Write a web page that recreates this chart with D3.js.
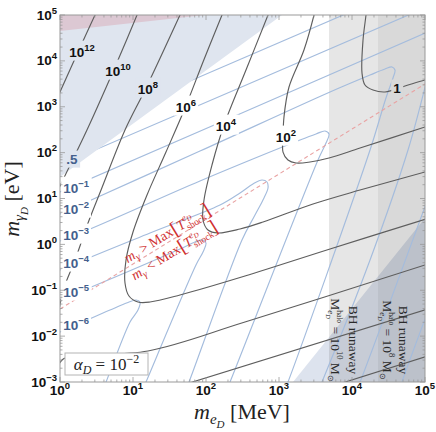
<!DOCTYPE html>
<html><head><meta charset="utf-8">
<script src="https://cdn.jsdelivr.net/npm/d3@7"></script>
<style>body{margin:0;background:#fff}svg{display:block}text{white-space:pre}</style>
</head><body><svg id="c" width="436" height="432"></svg>
<script>
// ---------------- data (x: m_eD in MeV, y: m_gammaD in eV) ----------------
const X_TICK_EXP = ["0","1","2","3","4","5"];
const Y_TICK_EXP = ["−3","−2","−1","0","1","2","3","4","5"];

// black contours (value labels 10^12 ... 1)
const black12a = [[3.53,165000],[3.02,1e5],[1.765,15600],[1,2097],[0.777,849]];
const black12b = [[3650,0.00067],[220000,0.00524]];
const black10a = [[12.87,165000],[11.35,1e5],[5.67,7360],[2.34,311],[1,18.7],[0.73,6.21]];
const black10b = [[32.1,0.000703],[220000,0.0554]];
const black8 = [[50,157000],[44,1e5],[15.07,2565],[7.77,311],[3.65,15.3],[2.42,2.92],[1.606,0.456],[1.134,0.112],[0.969,0.0371],[0.828,0.00641],[0.882,0.00202],[1.134,0.00325],[16.04,0.00474],[342,0.0203],[1e5,0.355],[220000,0.531]];
const black6 = [[188,165000],[165.6,1e5],[91,9452],[51.6,939],[28.3,103],[15.56,11.92],[10,1.86],[8.02,0.456],[7.77,0.144],[8.81,0.0749],[11.7,0.0554],[17.1,0.0554],[44,0.0787],[342,0.204],[5000,0.792],[1e5,3.5],[220000,5.08]];
const black4 = [[777,149000],[707,1e5],[353,6320],[176.6,400],[120.8,53.7],[93.9,9.27],[91,3.4],[106.4,2.06],[145.9,1.77],[292.4,2.16],[604,3.07],[2923,7.59],[12880,15.3],[1e5,37.8],[220000,53.7]];
const black2 = [[3213,157000],[3016,1e5],[2198,17260],[1371,2697],[1170,598],[1135,219],[1135,103],[1327,69],[1710,59.4],[2660,62.5],[4842,76.4],[12880,126],[1e5,362],[220000,541]];
const black0 = [[16030,157000],[15560,1e5],[14160,28510],[13710,5440],[15070,2980],[19410,2318],[28320,2099],[53210,2831],[1e5,3830],[220000,5440]];
const blackLabelText = ["12","10","8","6","4","2",""];
const blackLabelPos = [[2.0,15600],[6.23,6010],[16.04,2440],[53.2,989],[187.9,380],[1247,219],[41330,2565]];

// blue contours (.5, 10^-1 ... 10^-6)
const blue6 = [[0.73,0.01007],[1,0.0123],[4.84,0.0371],[8.54,0.0541],[11,0.0612],[12.47,0.0554],[11.7,0.0371],[9.1,0.0203],[4.27,0.001],[3.88,0.000703]];
const blue5 = [[0.73,0.0501],[1,0.0612],[44,0.792],[70.7,1.13],[91,1.245],[100,1.07],[91,0.683],[72.9,0.355],[15.07,0.001],[13.7,0.000703]];
const blue4 = [[0.73,0.215],[1,0.276],[17.1,1.77],[155.5,7.21],[292.4,13.2],[440,20.7],[585,25.3],[685,22.9],[707,16.9],[623,10.3],[469,4.36],[311,1.245],[58.5,0.001],[53.2,0.000703]];
const blue3 = [[0.73,1.085],[1,1.185],[82.7,24.1],[1941,188],[3213,255],[4266,296],[4842,255],[4402,162],[3421,69],[213.2,0.001],[194,0.000703]];
const blue2 = [[0.73,3.66],[1,4.59],[82.7,108],[5000,2099],[17660,4920],[28320,6650],[35300,7360],[38800,6320],[36460,4240],[29200,1552],[17660,114],[1327,0.001],[1208,0.000703]];
const blue1a = [[0.73,11.3],[1,13.9],[117000,44800]];
const blue1b = [[3530,0.000703],[3880,0.001],[17660,0.456],[58500,114],[106400,3830],[124700,9440]];
const blueHalf = [[0.73,44],[1,53.7],[85500,128500]];
const blueUpper = [[1,219],[9400,116000]];
const blueSteepA = [[11700,0.000703],[12880,0.001],[117000,13.2]];
const blueSteepB = [[45500,0.000703],[48400,0.001],[117000,0.0454]];
const blueLabelText = [".5","−1","−2","−3","−4","−5","−6"];
const blueLabelPos = [[1.46,72.6],[1.66,16.9],[1.66,5.9],[1.66,1.6],[1.66,0.393],[1.66,0.0916],[1.66,0.0175]];

// shaded regions
const shadeUL = [[1,1e5],[1100,1e5],[1,29.4]];
const shadePink = [[1,1e5],[96.9,1e5],[1,44800]];
const shadeLR = [[1556,0.001],[1e5,3.76],[1e5,0.001]];
const bhBandLow = [4840, 22700];
const redLine = [[1,0.039],[1e5,3130]];

// ---------------- drawing ----------------
const W=436,H=432,L=60,R=425,T=15,B=382;
const svg=d3.select("#c");
const x=d3.scaleLog().domain([1,1e5]).range([L,R]);
const y=d3.scaleLog().domain([1e-3,1e5]).range([B,T]);
svg.append("rect").attr("width",W).attr("height",H).attr("fill","#fff");
svg.append("defs").append("clipPath").attr("id","clip").append("rect")
  .attr("x",L).attr("y",T).attr("width",R-L).attr("height",B-T);
const plot=svg.append("g").attr("clip-path","url(#clip)");
const line=d3.line().x(d=>x(d[0])).y(d=>y(d[1])).curve(d3.curveCatmullRom.alpha(0.5));
const poly=d3.line().x(d=>x(d[0])).y(d=>y(d[1]));

const bandCols=["#e6e6e6","#d9d9d9"];
bhBandLow.forEach((lo,i)=>plot.append("rect").attr("x",x(lo)).attr("y",T)
  .attr("width",x(1e5)-x(lo)).attr("height",B-T).attr("fill",bandCols[i]));
plot.append("path").attr("d",poly(shadeLR)+"Z").attr("fill","#dde3ee").style("mix-blend-mode","multiply");

[blue6,blue5,blue4,blue3,blue2,blue1a,blue1b,blueHalf,blueUpper,blueSteepA,blueSteepB].forEach(c=>
  plot.append("path").attr("d",line(c)).attr("fill","none").attr("stroke","#a4bcdd").attr("stroke-width",1.15));

const ulColor="#dfe5ef";
plot.append("path").attr("d",poly(shadeUL)+"Z").attr("fill",ulColor);
plot.append("path").attr("d",poly(shadePink)+"Z").attr("fill","#dcc8d3");

plot.append("path").attr("d",poly(redLine)).attr("fill","none").attr("stroke","#e9a3a3")
  .attr("stroke-width",1.1).attr("stroke-dasharray","4,3");

[black12a,black12b,black10a,black10b,black8,black6,black4,black2,black0].forEach(c=>
  plot.append("path").attr("d",line(c)).attr("fill","none").attr("stroke","#5e5e5e").attr("stroke-width",1.15));

// rich text helper
function rich(parent,px,py,rot,pieces,anchor,base){
  const outer=parent.append("g").attr("transform",`translate(${px},${py}) rotate(${rot})`);
  const g=outer.append("g");
  let cx=0,mark=0,far=0;
  pieces.forEach(p=>{
    if(p.mark){mark=cx;far=cx;}
    if(p.back)cx=mark;
    if(p.resume)cx=Math.max(cx,far);
    const t=g.append("text").attr("x",cx).attr("y",p.b||0).attr("font-size",p.fs).text(p.t);
    Object.entries(base||{}).forEach(([k,v])=>t.attr(k,v));
    if(p.it)t.attr("font-style","italic");
    if(p.bold)t.attr("font-weight","bold");
    const w=t.node().getComputedTextLength();
    cx+=w+(p.dx||0);far=Math.max(far,cx);
  });
  const tot=Math.max(cx,far);
  g.attr("transform",`translate(${anchor==="middle"?-tot/2:anchor==="end"?-tot:0},0)`);
  return outer;
}
const sans={"font-family":"Liberation Sans, Arial, sans-serif"};
const serif={"font-family":"Liberation Serif, Times New Roman, serif"};

// contour labels with gaps
function bgAt(px,py){
  if(px>=x(bhBandLow[1]))return bandCols[1];
  if(px>=x(bhBandLow[0]))return bandCols[0];
  const P=shadeUL.map(d=>[x(d[0]),y(d[1])]);
  if(d3.polygonContains(P,[px,py]))return ulColor;
  return "#fff";
}
function contourLabel(txt,pos,color){
  const px=x(pos[0]),py=y(pos[1]);
  const pieces=txt===""?[{t:"1",fs:13.5,bold:true}]:
    txt.startsWith(".")?[{t:txt,fs:13.5,bold:true}]:
    [{t:"10",fs:13.5,bold:true},{t:txt,fs:9.5,bold:true,b:-6}];
  const g=rich(svg,px,py+4.6,0,pieces,"middle",Object.assign({fill:color},sans));
  const bb=g.node().getBBox();
  g.insert("rect",":first-child").attr("x",bb.x-2).attr("y",bb.y-1).attr("width",bb.width+4)
    .attr("height",bb.height+2).attr("fill",bgAt(px,py));
}
blackLabelText.forEach((t,i)=>contourLabel(t,blackLabelPos[i],"#111"));
blueLabelText.forEach((t,i)=>contourLabel(t,blueLabelPos[i],"#44608d"));

// red annotation along dashed line
{
  const x0=x(redLine[0][0]),y0=y(redLine[0][1]),x1=x(redLine[1][0]),y1=y(redLine[1][1]);
  const ax=x(30),ay=y0+(ax-x0)*(y1-y0)/(x1-x0);
  const ang=Math.atan2(y1-y0,x1-x0)*180/Math.PI;
  const red=Object.assign({fill:"#d0302f"},serif);
  const mk=s=>[{t:"m",fs:14,it:true},{t:"γ",fs:10,it:true,b:3},{t:" "+s+" Max",fs:14},{t:"[",fs:20,b:2},
    {t:"T",fs:14,it:true},{t:"e",fs:9.5,it:true,b:-6,mark:true},{t:"D",fs:7,it:true,b:-4},
    {t:"shock",fs:9.5,b:4,back:true},{t:"]",fs:20,b:2,resume:true}];
  const g=svg.append("g").attr("transform",`translate(${ax},${ay}) rotate(${ang})`);
  rich(g,4,-3.5,0,mk(">"),"middle",red);
  rich(g,1,15,0,mk("<"),"middle",red);
}

// BH runaway labels
const dark=Object.assign({fill:"#2a2a2a"},serif);
[[349,331,"10"],[399,383,"8"]].forEach(([b1,b2,e])=>{
  rich(svg,b1,340,90,[{t:"BH runaway",fs:13.5}],"middle",dark);
  rich(svg,b2,340,90,[{t:"M",fs:13.5},{t:"halo",fs:7.5,b:-6,mark:true},{t:"e",fs:9,it:true,b:3,back:true},
    {t:"D",fs:6.5,it:true,b:5},{t:" = 10",fs:13.5,resume:true},{t:e,fs:8.5,b:-6},{t:" M",fs:13.5},{t:"⊙",fs:8,b:3}],"middle",dark);
});

// legend
svg.append("rect").attr("x",65).attr("y",353).attr("width",83).attr("height",22)
  .attr("fill","#fff").attr("stroke","#b4b4b4").attr("stroke-width",1);
rich(svg,106.5,369.5,0,[{t:"α",fs:17,it:true},{t:"D",fs:12,it:true,b:4},{t:" = 10",fs:17},{t:"−2",fs:12,b:-7}],"middle",Object.assign({fill:"#222"},serif));

// frame and ticks
svg.append("rect").attr("x",L).attr("y",T).attr("width",R-L).attr("height",B-T)
  .attr("fill","none").attr("stroke","#999").attr("stroke-width",1);
const tg=svg.append("g").attr("stroke","#999").attr("stroke-width",0.8);
const isMajor=v=>Math.abs(Math.log10(v)-Math.round(Math.log10(v)))<1e-9;
x.ticks().forEach(v=>{const p=x(v),l=isMajor(v)?5:2.5;
  tg.append("line").attr("x1",p).attr("x2",p).attr("y1",B).attr("y2",B-l);
  tg.append("line").attr("x1",p).attr("x2",p).attr("y1",T).attr("y2",T+l);});
y.ticks().forEach(v=>{const p=y(v),l=isMajor(v)?5:2.5;
  tg.append("line").attr("y1",p).attr("y2",p).attr("x1",L).attr("x2",L+l);
  tg.append("line").attr("y1",p).attr("y2",p).attr("x1",R).attr("x2",R-l);});
const tickStyle=Object.assign({fill:"#111"},sans);
x.ticks().filter(isMajor).forEach((v,i)=>rich(svg,x(v),395,0,[{t:"10",fs:13.5,bold:true},{t:X_TICK_EXP[i],fs:9.5,bold:true,b:-6}],"middle",tickStyle));
y.ticks().filter(isMajor).forEach((v,i)=>rich(svg,57,y(v)+4.6,0,[{t:"10",fs:13.5,bold:true},{t:Y_TICK_EXP[i],fs:9.5,bold:true,b:-6}],"end",tickStyle));

// axis titles
const titleStyle=Object.assign({fill:"#222"},serif);
rich(svg,242,419,0,[{t:"m",fs:22,it:true},{t:"e",fs:15,it:true,b:5},{t:"D",fs:11,it:true,b:9},{t:" [MeV]",fs:22}],"middle",titleStyle);
rich(svg,19,199,-90,[{t:"m",fs:22,it:true},{t:"γ",fs:15,it:true,b:5},{t:"D",fs:11,it:true,b:9},{t:" [eV]",fs:22}],"middle",titleStyle);
</script></body></html>
